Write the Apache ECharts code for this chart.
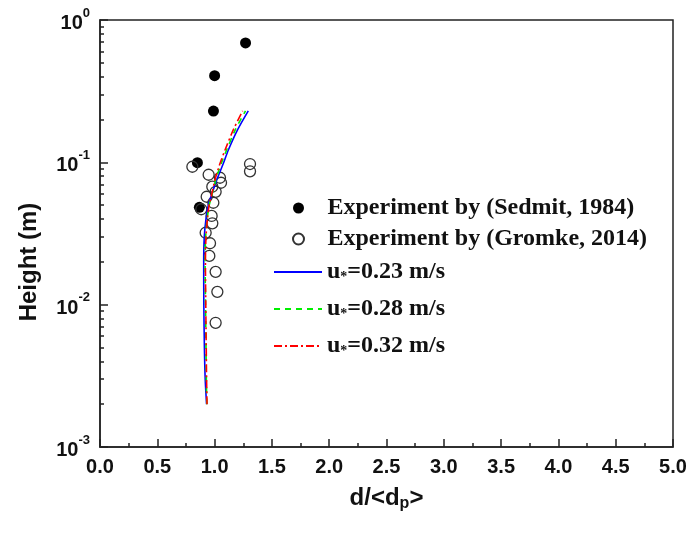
<!DOCTYPE html>
<html>
<head>
<meta charset="utf-8">
<script src="https://cdn.jsdelivr.net/npm/echarts@6/dist/echarts.min.js"></script>
<style>html,body{margin:0;padding:0;background:#fff;}#chart{width:692px;height:537px;}</style>
</head>
<body>
<div id="chart"></div>
<script>
// ---- data ----
var sedmitX = [1.27, 1.00, 0.99, 0.85, 0.867];
var sedmitY = [0.69, 0.406, 0.229, 0.0994, 0.0483];

var gromkeX = [0.806, 1.309, 1.309, 0.948, 1.047, 1.056, 0.98, 1.009, 0.931, 0.989, 0.884, 0.974, 0.98, 0.922, 0.96, 0.954, 1.009, 1.024, 1.009];
var gromkeY = [0.0931, 0.0973, 0.0865, 0.0818, 0.0779, 0.0719, 0.0674, 0.0621, 0.0573, 0.052, 0.0468, 0.042, 0.0373, 0.032, 0.027, 0.022, 0.017, 0.0123, 0.00746];

var curveY  = [0.002, 0.003, 0.005, 0.01, 0.02, 0.03, 0.04, 0.05, 0.057, 0.075, 0.098, 0.122, 0.169, 0.23];
var u023X   = [0.930, 0.918, 0.911, 0.906, 0.905, 0.910, 0.925, 0.945, 0.967, 1.018, 1.076, 1.120, 1.200, 1.294];
var u028X   = [0.932, 0.928, 0.925, 0.921, 0.917, 0.922, 0.935, 0.953, 0.972, 1.010, 1.058, 1.105, 1.180, 1.270];
var u032X   = [0.934, 0.930, 0.927, 0.923, 0.920, 0.925, 0.937, 0.952, 0.970, 1.003, 1.047, 1.091, 1.163, 1.245];

var seriesNames = ['Experiment by (Sedmit, 1984)', 'Experiment by (Gromke, 2014)', 'u*=0.23 m/s', 'u*=0.28 m/s', 'u*=0.32 m/s'];

var xMin = 0, xMax = 5, xInterval = 0.5;
var yMajorTicks = [0.001, 0.01, 0.1, 1];
var yMinorTicks = [];
for (var d = 0; d < 3; d++) {
  for (var k = 2; k <= 9; k++) {
    yMinorTicks.push(+(k * yMajorTicks[d]).toPrecision(3));
  }
}

function zip(xs, ys) { return xs.map(function (x, i) { return [x, ys[i]]; }); }

var axisColor = '#222';
var sansFont = 'Arial, "Liberation Sans", sans-serif';
var serifFont = '"Times New Roman", "Liberation Serif", serif';

var chart = echarts.init(document.getElementById('chart'), null, {renderer: 'canvas'});

var option = {
  backgroundColor: '#fff',
  animation: false,
  grid: {left: 100, right: 19, top: 20, bottom: 90, show: true, borderColor: axisColor, borderWidth: 1.5, backgroundColor: 'transparent'},
  xAxis: {
    type: 'value', min: xMin, max: xMax, interval: xInterval,
    axisLine: {show: true, lineStyle: {color: axisColor, width: 1.5}},
    axisTick: {show: true, inside: true, length: 8, lineStyle: {color: axisColor, width: 1.5}},
    minorTick: {show: true, splitNumber: 2, length: 4, lineStyle: {color: axisColor, width: 1.5}},
    splitLine: {show: false},
    axisLabel: {margin: 10, color: '#111', fontFamily: sansFont, fontWeight: 'bold', fontSize: 20,
      formatter: function (v) { return v.toFixed(1); }},
    name: '{a|d/<d}{p|p}{a|>}',
    nameLocation: 'middle',
    nameGap: 38,
    nameTextStyle: {
      color: '#111', fontFamily: sansFont, fontWeight: 'bold', fontSize: 24,
      rich: {
        a: {fontFamily: sansFont, fontWeight: 'bold', fontSize: 24, color: '#111', verticalAlign: 'top', lineHeight: 26},
        p: {fontFamily: sansFont, fontWeight: 'bold', fontSize: 16, color: '#111', verticalAlign: 'bottom', lineHeight: 18, padding: [14, 0, 0, 0]}
      }
    }
  },
  yAxis: [{
    type: 'log', logBase: 10, min: 0.001, max: 1,
    axisLine: {show: true, lineStyle: {color: axisColor, width: 1.5}},
    axisTick: {show: true, inside: true, length: 8, customValues: yMajorTicks, lineStyle: {color: axisColor, width: 1.5}},
    splitLine: {show: false},
    minorTick: {show: false},
    axisLabel: {
      margin: 10, customValues: yMajorTicks,
      formatter: function (v) {
        var e = Math.round(Math.log10(v));
        return '{b|10}{s|' + e + '}';
      },
      rich: {
        b: {fontFamily: sansFont, fontWeight: 'bold', fontSize: 20, color: '#111', verticalAlign: 'bottom', padding: [7, 0, 0, 0]},
        s: {fontFamily: sansFont, fontWeight: 'bold', fontSize: 13, color: '#111', verticalAlign: 'top'}
      }
    }
  }, {
    type: 'log', logBase: 10, min: 0.001, max: 1, position: 'left',
    axisLine: {show: false},
    axisTick: {show: true, inside: true, length: 4, customValues: yMinorTicks, lineStyle: {color: axisColor, width: 1.5}},
    axisLabel: {show: false},
    splitLine: {show: false}
  }],
  legend: [{
    left: 287, top: 191, orient: 'vertical', itemWidth: 48, itemHeight: 11, itemGap: 7,
    data: [seriesNames[0], seriesNames[1]],
    textStyle: {fontFamily: serifFont, fontWeight: 'bold', fontSize: 24, color: '#111', lineHeight: 24}
  }, {
    left: 268, top: 251, orient: 'vertical', itemWidth: 48, itemHeight: 14, itemGap: 9,
    data: [seriesNames[2], seriesNames[3], seriesNames[4]],
    itemStyle: {color: 'rgba(0,0,0,0)', borderWidth: 0, opacity: 0},
    formatter: function (name) {
      return '{a|u}{s|*}{a|' + name.slice(2) + '}';
    },
    textStyle: {
      fontFamily: serifFont, fontWeight: 'bold', fontSize: 24, color: '#111',
      rich: {
        a: {fontFamily: serifFont, fontWeight: 'bold', fontSize: 24, color: '#111', verticalAlign: 'top', lineHeight: 24},
        s: {fontFamily: serifFont, fontWeight: 'bold', fontSize: 14, color: '#111', verticalAlign: 'bottom', lineHeight: 14, padding: [14, 0, 0, 0]}
      }
    }
  }],
  graphic: [{
    type: 'text', x: 29, y: 262, rotation: Math.PI / 2,
    style: {text: 'Height (m)', fontFamily: sansFont, fontWeight: 'bold', fontSize: 24, fill: '#111', align: 'center', verticalAlign: 'middle'}
  }],
  series: [{
    name: seriesNames[0], type: 'scatter', symbol: 'circle', symbolSize: 11,
    itemStyle: {color: '#000', opacity: 1},
    data: zip(sedmitX, sedmitY), z: 2
  }, {
    name: seriesNames[1], type: 'scatter', symbol: 'circle', symbolSize: 11,
    itemStyle: {color: 'rgba(255,255,255,0)', borderColor: '#333', borderWidth: 1.3, opacity: 1},
    data: zip(gromkeX, gromkeY), z: 3
  }, {
    name: seriesNames[2], type: 'line', symbol: 'none', smooth: 0.3,
    lineStyle: {color: '#0000ff', width: 1.6, type: 'solid'}, itemStyle: {color: '#0000ff'},
    data: zip(u023X, curveY), z: 4
  }, {
    name: seriesNames[3], type: 'line', symbol: 'none', smooth: 0.3,
    lineStyle: {color: '#00ee00', width: 1.6, type: [6, 5]}, itemStyle: {color: '#00ee00'},
    data: zip(u028X, curveY), z: 5
  }, {
    name: seriesNames[4], type: 'line', symbol: 'none', smooth: 0.3,
    lineStyle: {color: '#ff0000', width: 1.6, type: [8, 3, 2, 3]}, itemStyle: {color: '#ff0000'},
    data: zip(u032X, curveY), z: 6
  }]
};
chart.setOption(option);
</script>
</body>
</html>
